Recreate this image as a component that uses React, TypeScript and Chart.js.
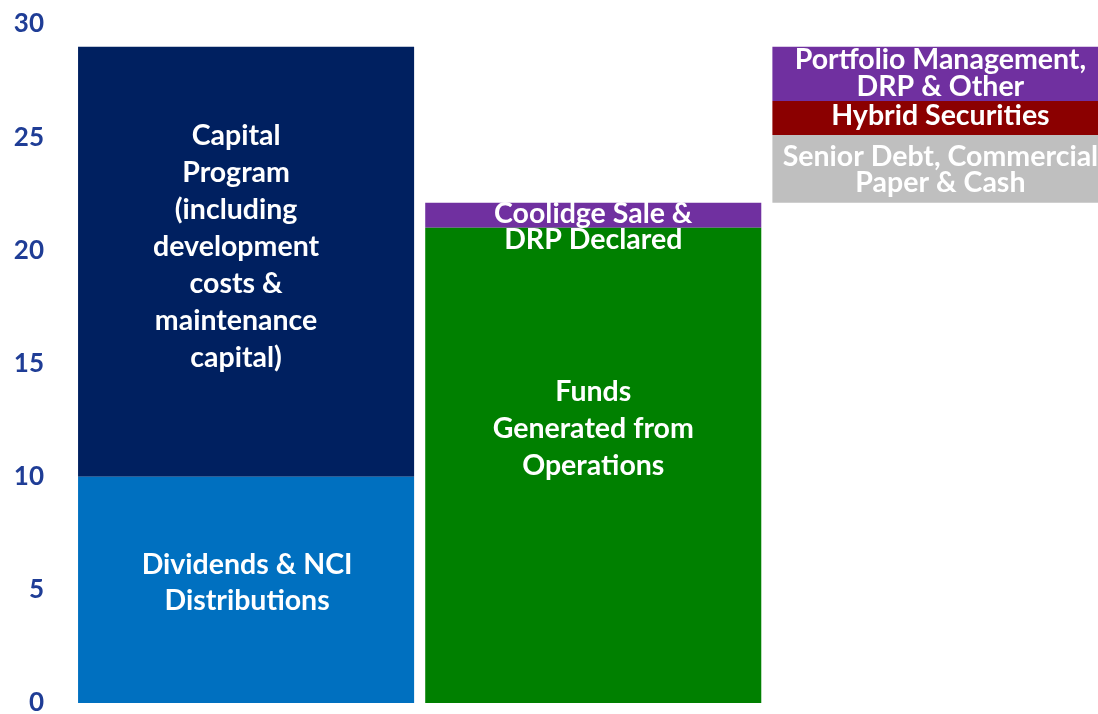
import React, { useEffect, useRef } from "react";
import { Chart, registerables } from "chart.js";

Chart.register(...registerables);

const categories = ["Uses", "Sources", "Financing"];
const yTicks = [0, 5, 10, 15, 20, 25, 30];

const dividendsNci = [[0, 10], null, null];
const capitalProgram = [[10, 29], null, null];
const fundsFromOps = [null, [0, 21], null];
const coolidgeDrp = [null, [21, 22.1], null];
const seniorDebt = [null, null, [22.1, 25.1]];
const hybridSecurities = [null, null, [25.1, 26.6]];
const portfolioMgmt = [null, null, [26.6, 29]];

const seriesLabels = [
  ["Dividends & NCI", "Distributions"],
  ["Capital", "Program", "(including", "development", "costs &", "maintenance", "capital)"],
  ["Funds", "Generated from", "Operations"],
  ["Coolidge Sale &", "DRP Declared"],
  ["Senior Debt, Commercial", "Paper & Cash"],
  ["Hybrid Securities"],
  ["Portfolio Management,", "DRP & Other"],
];

const seriesColors = ["#0070C0", "#002060", "#008000", "#7030A0", "#BFBFBF", "#8B0000", "#7030A0"];
// label style: [fontSize, lineHeight, pixel offset y of block centre from segment centre, pixel offset x]
const labelStyle = [
  [28.5, 36, -7, 1],
  [28.5, 37, -15, -10],
  [28.5, 37, -37, 0],
  [28.5, 26, 12, 0],
  [28.5, 26, 1, 0],
  [28.5, 26, -2, 0],
  [28.5, 27, 0, 0],
];

const FONT = "Lato, 'Open Sans', sans-serif";
const TICK_COLOR = "#1F3D96";

const labelPlugin = {
  id: "segLabels",
  afterDatasetsDraw(chart: any) {
    const ctx = chart.ctx;
    ctx.save();
    chart.data.datasets.forEach((ds: any, i: number) => {
      const meta = chart.getDatasetMeta(i);
      meta.data.forEach((el: any, j: number) => {
        if (ds.data[j] == null) return;
        const [fs, lh, off, offX] = labelStyle[i];
        const lines = seriesLabels[i];
        const cy = (el.y + el.base) / 2 + off;
        ctx.font = `bold ${fs}px ${FONT}`;
        ctx.fillStyle = "#FFFFFF";
        ctx.textAlign = "center";
        ctx.textBaseline = "middle";
        const start = cy - ((lines.length - 1) * lh) / 2;
        lines.forEach((ln, k) => ctx.fillText(ln, el.x + offX, start + k * lh));
      });
    });
    // y-axis tick labels
    const y = chart.scales.y;
    ctx.font = `bold 26px ${FONT}`;
    ctx.fillStyle = TICK_COLOR;
    ctx.textAlign = "right";
    ctx.textBaseline = "middle";
    yTicks.forEach((v) => ctx.fillText(String(v), 44, y.getPixelForValue(v)));
    ctx.restore();
  },
};

export default function App() {
  const ref = useRef<HTMLCanvasElement>(null);
  useEffect(() => {
    if (!ref.current) return;
    const all = [dividendsNci, capitalProgram, fundsFromOps, coolidgeDrp, seniorDebt, hybridSecurities, portfolioMgmt];
    const chart = new Chart(ref.current, {
      type: "bar",
      data: {
        labels: categories,
        datasets: all.map((d, i) => ({
          label: seriesLabels[i].join(" "),
          data: d as any,
          backgroundColor: seriesColors[i],
          borderWidth: 0,
          grouped: false,
          categoryPercentage: 1,
          barPercentage: 0.968,
        })),
      },
      options: {
        animation: false,
        responsive: false,
        maintainAspectRatio: false,
        layout: { padding: { top: 24, bottom: 11, left: 0, right: 0 } },
        plugins: { legend: { display: false }, tooltip: { enabled: false } },
        scales: {
          x: { display: false },
          y: {
            min: 0,
            max: 30,
            afterBuildTicks: (axis: any) => {
              axis.ticks = yTicks.map((v) => ({ value: v }));
            },
            afterFit: (axis: any) => {
              axis.width = 72.5;
            },
            grid: { display: false, drawTicks: false },
            border: { display: false },
            ticks: { display: false },
          },
        },
      },
      plugins: [labelPlugin],
    });
    return () => chart.destroy();
  }, []);
  return (
    <div style={{ position: "fixed", left: 0, top: 0, width: 1098, height: 714, overflow: "hidden", background: "#fff" }}>
      <canvas ref={ref} width={1114} height={714} style={{ display: "block" }} />
    </div>
  );
}
